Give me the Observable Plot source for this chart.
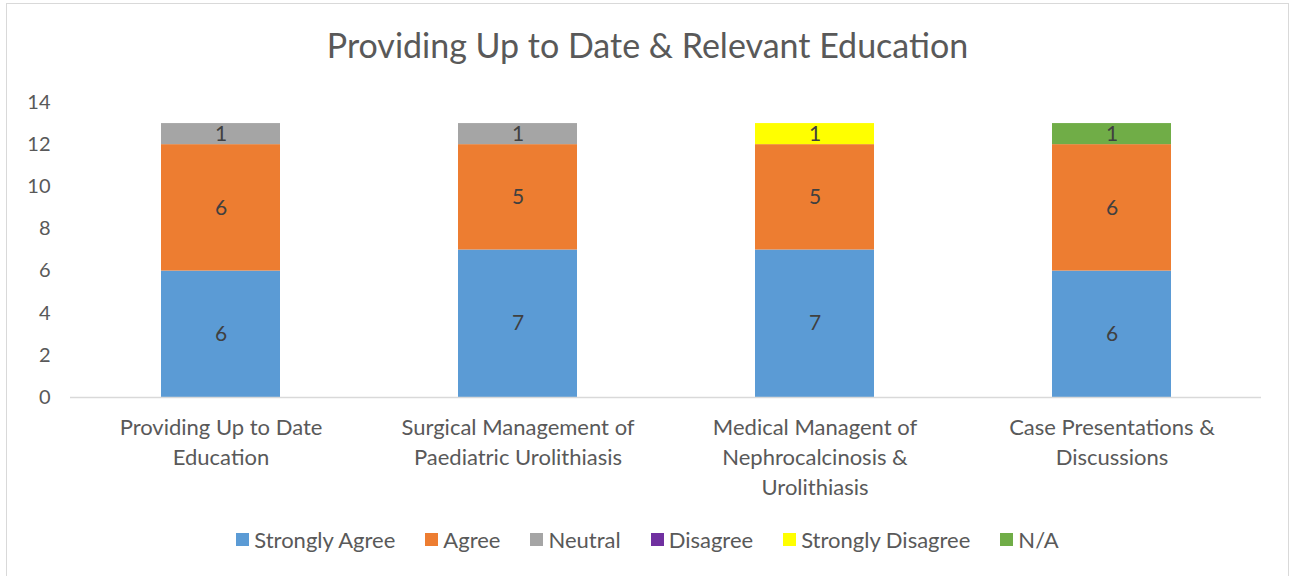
<!DOCTYPE html>
<html>
<head>
<meta charset="utf-8">
<script src="https://cdn.jsdelivr.net/npm/d3@7"></script>
<script src="https://cdn.jsdelivr.net/npm/@observablehq/plot@0.6"></script>
<style>
  body { margin: 0; background: #fff; width: 1295px; height: 576px; overflow: hidden; position: relative; font-family: Lato, "Open Sans", sans-serif; color: #595959; }
  #frame { position: absolute; left: 6px; top: 3px; width: 1283px; height: 620px; border: 1.5px solid #d9d9d9; box-sizing: border-box; }
  #title { position: absolute; left: 0; width: 1295px; top: 24px; text-align: center; font-size: 34px; color: #595959; }
  #chart { position: absolute; left: 0; top: 85px; }
  #legend { position: absolute; left: 0; width: 1295px; top: 526px; display: flex; justify-content: center; gap: 30px; font-size: 22px; color: #595959; }
  #legend .item { display: flex; align-items: center; gap: 5px; }
  #legend .sw { width: 13px; height: 13px; display: inline-block; }
</style>
</head>
<body>
<div id="frame"></div>
<div id="title">Providing Up to Date &amp; Relevant Education</div>
<div id="chart"></div>
<div id="legend"></div>
<script>
const categories = [
  "Providing Up to Date Education",
  "Surgical Management of Paediatric Urolithiasis",
  "Medical Managent of Nephrocalcinosis & Urolithiasis",
  "Case Presentations & Discussions"
];
const tickLabels = [
  "Providing Up to Date\nEducation",
  "Surgical Management of\nPaediatric Urolithiasis",
  "Medical Managent of\nNephrocalcinosis &\nUrolithiasis",
  "Case Presentations &\nDiscussions"
];
const seriesNames = ["Strongly Agree", "Agree", "Neutral", "Disagree", "Strongly Disagree", "N/A"];
const seriesColors = ["#5b9bd5", "#ed7d31", "#a5a5a5", "#7030a0", "#ffff00", "#70ad47"];
const stronglyAgree = [6, 7, 7, 6];
const agree = [6, 5, 5, 6];
const neutral = [1, 1, 0, 0];
const disagree = [0, 0, 0, 0];
const stronglyDisagree = [0, 0, 1, 0];
const na = [0, 0, 0, 1];
const yTicks = [0, 2, 4, 6, 8, 10, 12, 14];

const seriesValues = [stronglyAgree, agree, neutral, disagree, stronglyDisagree, na];
const data = [];
seriesNames.forEach((s, si) => {
  categories.forEach((c, ci) => {
    data.push({ category: c, series: s, value: seriesValues[si][ci] });
  });
});
const labelOf = new Map(categories.map((c, i) => [c, tickLabels[i]]));

const chart = Plot.plot({
  width: 1295,
  height: 420,
  marginTop: 17,
  marginBottom: 108,
  marginLeft: 70,
  marginRight: 34,
  style: { fontFamily: "Lato, 'Open Sans', sans-serif", color: "#595959", background: "transparent" },
  x: { domain: categories, paddingInner: 0.6, paddingOuter: 0.3, label: null },
  y: { domain: [0, 14], label: null },
  color: { domain: seriesNames, range: seriesColors },
  marks: [
    Plot.axisY({ ticks: yTicks, tickSize: 0, tickPadding: 20, fontSize: 20, fill: "#595959", label: null }),
    Plot.axisX({ tickSize: 0, tickPadding: 16, fontSize: 22, fill: "#595959", lineHeight: 1.36, textAnchor: "middle", lineAnchor: "top", tickFormat: d => labelOf.get(d), label: null }),
    Plot.barY(data, Plot.stackY({ x: "category", y: "value", fill: "series", order: seriesNames })),
    Plot.ruleY([0], { stroke: "#d9d9d9", strokeWidth: 1.5 }),
    Plot.text(data, Plot.stackY({ x: "category", y: "value", z: "series", order: seriesNames, text: d => d.value > 0 ? String(d.value) : "", fontSize: 21, fill: "#404040" }))
  ]
});
document.getElementById("chart").appendChild(chart);

const legend = document.getElementById("legend");
seriesNames.forEach((s, i) => {
  const item = document.createElement("div");
  item.className = "item";
  const sw = document.createElement("span");
  sw.className = "sw";
  sw.style.background = seriesColors[i];
  const t = document.createElement("span");
  t.textContent = s;
  item.appendChild(sw);
  item.appendChild(t);
  legend.appendChild(item);
});
</script>
</body>
</html>
